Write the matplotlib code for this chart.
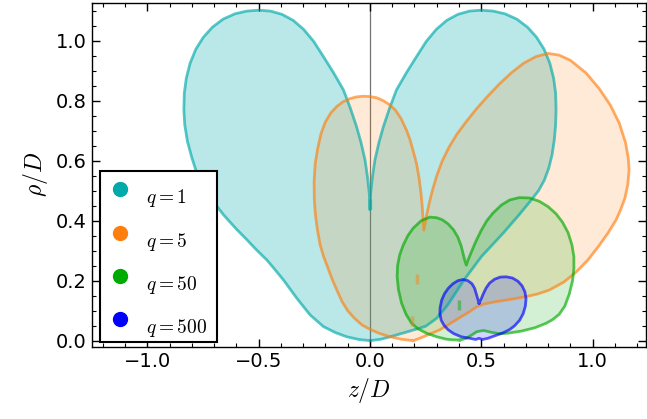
import matplotlib
matplotlib.use("Agg")
import matplotlib.pyplot as plt
from matplotlib.lines import Line2D
from matplotlib.ticker import MultipleLocator

plt.rcParams['mathtext.fontset'] = 'cm'
plt.rcParams['font.family'] = ['DejaVu Sans']

# boundary of each lobe pair, (z/D, rho/D), traced as closed curves
z_q1 = [0.0, -0.05, -0.104, -0.155, -0.209, -0.269, -0.328, -0.388, -0.43, -0.463,
        -0.51, -0.552, -0.6, -0.657, -0.7, -0.74, -0.776, -0.8, -0.82, -0.832,
        -0.836, -0.834, -0.825, -0.808, -0.782, -0.748, -0.708, -0.66, -0.606, -0.553,
        -0.5, -0.447, -0.395, -0.345, -0.298, -0.253, -0.209, -0.165, -0.119, -0.088,
        -0.06, -0.04, -0.022, -0.011, -0.003, 0.0, 0.003, 0.011, 0.022, 0.04,
        0.06, 0.088, 0.119, 0.165, 0.209, 0.253, 0.298, 0.345, 0.395, 0.447,
        0.5, 0.553, 0.606, 0.66, 0.708, 0.748, 0.782, 0.808, 0.825, 0.834,
        0.836, 0.834, 0.828, 0.818, 0.803, 0.783, 0.757, 0.72, 0.67, 0.6,
        0.55, 0.5, 0.46, 0.42, 0.385, 0.35, 0.3, 0.25, 0.17, 0.1,
        0.05, 0.0]
rho_q1 = [0.0, 0.004, 0.013, 0.027, 0.047, 0.086, 0.141, 0.202, 0.24, 0.269,
          0.303, 0.336, 0.372, 0.419, 0.46, 0.505, 0.555, 0.61, 0.665, 0.72,
          0.77, 0.825, 0.875, 0.925, 0.972, 1.012, 1.045, 1.072, 1.09, 1.099,
          1.102, 1.099, 1.088, 1.068, 1.038, 0.998, 0.947, 0.895, 0.836, 0.775,
          0.713, 0.66, 0.602, 0.545, 0.491, 0.436, 0.491, 0.545, 0.602, 0.66,
          0.713, 0.775, 0.836, 0.895, 0.947, 0.998, 1.038, 1.068, 1.088, 1.099,
          1.102, 1.099, 1.09, 1.072, 1.045, 1.012, 0.972, 0.925, 0.875, 0.825,
          0.77, 0.72, 0.67, 0.62, 0.575, 0.535, 0.5, 0.465, 0.42, 0.36,
          0.32, 0.28, 0.24, 0.2, 0.16, 0.12, 0.075, 0.048, 0.03, 0.015,
          0.005, 0.0]

z_q5 = [0.194, 0.14, 0.09, 0.04, 0.0, -0.035, -0.07, -0.1, -0.125, -0.149,
        -0.17, -0.19, -0.208, -0.224, -0.236, -0.245, -0.25, -0.251, -0.246, -0.235,
        -0.22, -0.2, -0.175, -0.149, -0.12, -0.09, -0.06, -0.03, 0.0, 0.03,
        0.06, 0.09, 0.115, 0.14, 0.164, 0.18, 0.195, 0.209, 0.22, 0.228,
        0.234, 0.238, 0.242, 0.252, 0.265, 0.28, 0.3, 0.325, 0.355, 0.39,
        0.43, 0.475, 0.525, 0.58, 0.635, 0.69, 0.745, 0.8, 0.85, 0.9,
        0.97, 1.03, 1.08, 1.12, 1.148, 1.16, 1.164, 1.158, 1.145, 1.125,
        1.105, 1.07, 1.03, 0.98, 0.925, 0.87, 0.806, 0.75, 0.7, 0.65,
        0.6, 0.55, 0.51, 0.48, 0.448, 0.41, 0.373, 0.34, 0.313, 0.269,
        0.23, 0.194]
rho_q5 = [0.0, 0.005, 0.013, 0.025, 0.038, 0.052, 0.075, 0.1, 0.13, 0.169,
          0.205, 0.245, 0.28, 0.32, 0.37, 0.42, 0.47, 0.53, 0.59, 0.64,
          0.69, 0.73, 0.76, 0.781, 0.797, 0.807, 0.813, 0.815, 0.814, 0.81,
          0.8, 0.786, 0.768, 0.74, 0.702, 0.67, 0.63, 0.591, 0.545, 0.5,
          0.455, 0.41, 0.369, 0.41, 0.455, 0.5, 0.55, 0.6, 0.645, 0.688,
          0.728, 0.77, 0.812, 0.855, 0.893, 0.925, 0.947, 0.958, 0.952, 0.935,
          0.893, 0.84, 0.785, 0.725, 0.66, 0.61, 0.57, 0.52, 0.475, 0.435,
          0.402, 0.36, 0.318, 0.27, 0.228, 0.195, 0.169, 0.155, 0.147, 0.14,
          0.134, 0.128, 0.122, 0.113, 0.097, 0.08, 0.063, 0.048, 0.036, 0.022,
          0.01, 0.0]

z_q50 = [0.403, 0.37, 0.343, 0.3, 0.254, 0.215, 0.187, 0.162, 0.142, 0.128,
         0.122, 0.124, 0.133, 0.149, 0.17, 0.194, 0.23, 0.269, 0.3, 0.325,
         0.35, 0.375, 0.395, 0.41, 0.42, 0.427, 0.433, 0.44, 0.455, 0.475,
         0.5, 0.525, 0.552, 0.59, 0.627, 0.67, 0.716, 0.76, 0.8, 0.836,
         0.865, 0.89, 0.907, 0.916, 0.916, 0.91, 0.895, 0.875, 0.85, 0.82,
         0.791, 0.74, 0.68, 0.62, 0.582, 0.545, 0.51, 0.48, 0.455, 0.43,
         0.403]
rho_q50 = [0.002, 0.003, 0.005, 0.013, 0.025, 0.04, 0.058, 0.088, 0.125, 0.17,
           0.213, 0.25, 0.285, 0.318, 0.35, 0.375, 0.4, 0.412, 0.41, 0.403,
           0.39, 0.37, 0.345, 0.315, 0.285, 0.265, 0.252, 0.268, 0.295, 0.33,
           0.368, 0.4, 0.425, 0.452, 0.469, 0.477, 0.476, 0.465, 0.447, 0.423,
           0.395, 0.36, 0.32, 0.28, 0.24, 0.2, 0.155, 0.115, 0.088, 0.07,
           0.058, 0.043, 0.032, 0.025, 0.023, 0.028, 0.034, 0.03, 0.018, 0.007,
           0.002]

z_q500 = [0.49, 0.484, 0.478, 0.47, 0.458, 0.44, 0.418, 0.395, 0.373, 0.352,
          0.335, 0.322, 0.315, 0.314, 0.32, 0.332, 0.35, 0.375, 0.41, 0.448,
          0.475, 0.49, 0.505, 0.53, 0.567, 0.6, 0.627, 0.65, 0.672, 0.688,
          0.698, 0.701, 0.696, 0.683, 0.665, 0.64, 0.612, 0.585, 0.56, 0.537,
          0.522, 0.51, 0.5, 0.49]
rho_q500 = [0.125, 0.14, 0.155, 0.175, 0.19, 0.2, 0.204, 0.2, 0.19, 0.175,
            0.157, 0.135, 0.11, 0.09, 0.068, 0.052, 0.037, 0.024, 0.013, 0.008,
            0.004, 0.008, 0.004, 0.008, 0.018, 0.027, 0.037, 0.05, 0.068, 0.09,
            0.115, 0.14, 0.163, 0.183, 0.198, 0.209, 0.213, 0.212, 0.205, 0.192,
            0.176, 0.158, 0.14, 0.125]

# small stray contour pieces
mark_z = [0.0, 0.21, 0.19, 0.40]
mark_rho = [0.455, 0.205, 0.065, 0.12]
mark_q = ['1', '5', '5', '50']

labels = ['1', '5', '50', '500']
colors = ['#00AAAA', '#FF7F0E', '#00AA00', '#0000FF']
fill_alpha = [0.27, 0.16, 0.17, 0.17]
shapes = [(z_q1, rho_q1), (z_q5, rho_q5), (z_q50, rho_q50), (z_q500, rho_q500)]

fig = plt.figure(figsize=(6.47, 4.19), dpi=100)
ax = fig.add_axes([0.1417, 0.1726, 0.8568, 0.821])

ax.axvline(0, color='0.45', lw=0.9, zorder=0.5)

for (zz, rr), col, fa in zip(shapes, colors, fill_alpha):
    ax.fill(zz, rr, color=col, alpha=fa, lw=0)
    ax.plot(zz, rr, color=col, alpha=0.65, lw=2.0, solid_joinstyle='round')

for mz, mr, mq in zip(mark_z, mark_rho, mark_q):
    c = colors[labels.index(mq)]
    ax.plot(mz, mr, marker='|', ms=7, mew=2.5, color=c, alpha=0.45)

ax.set_xlim(-1.25, 1.24)
ax.set_ylim(-0.02, 1.127)
ax.xaxis.set_major_locator(MultipleLocator(0.5))
ax.xaxis.set_minor_locator(MultipleLocator(0.1))
ax.yaxis.set_major_locator(MultipleLocator(0.2))
ax.yaxis.set_minor_locator(MultipleLocator(0.05))
ax.tick_params(which='both', direction='in', top=True, right=True, labelsize=14)
ax.tick_params(which='major', length=6, width=1)
ax.tick_params(which='minor', length=3, width=0.8)
for s in ax.spines.values():
    s.set_linewidth(1.0)

ax.set_xlabel('$z/D$', fontsize=17)
ax.set_ylabel(r'$\rho/D$', fontsize=17)

handles = [Line2D([], [], ls='none', marker='o', ms=10, color=c) for c in colors]
leg = ax.legend(handles, ['$q=%s$' % q for q in labels], loc='lower left',
                bbox_to_anchor=(0.015, 0.0147), borderaxespad=0, fontsize=14,
                frameon=True, fancybox=False, edgecolor='black', framealpha=1,
                labelspacing=1.1, handlelength=1.1, handletextpad=0.8,
                borderpad=0.48)
leg.get_frame().set_linewidth(1.5)
# labels sit a little below their markers
for t in leg.get_texts():
    t.set_position((0, -7))

fig.savefig('out.png', dpi=100)
